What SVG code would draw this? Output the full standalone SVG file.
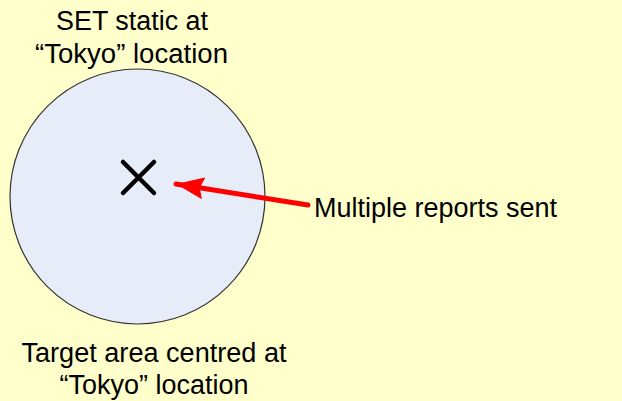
<svg xmlns="http://www.w3.org/2000/svg" width="622" height="401" viewBox="0 0 622 401">
<style>
.lbl{font-family:"Liberation Sans",Arial,sans-serif;font-size:27px;fill:#000}
</style>
<defs>
<marker id="ah" markerUnits="userSpaceOnUse" markerWidth="30" markerHeight="22" refX="28" refY="11" orient="auto" viewBox="0 0 30 22">
<path d="M0,0 L28,11 L0,22 L4,11 Z" fill="#FF0000"/>
</marker>
</defs>
<rect x="0" y="0" width="622" height="401" fill="#FFFFCC"/>
<g id="target-area">
<circle cx="137.5" cy="196.5" r="127.5" fill="#E6ECF8" stroke="#333333" stroke-width="1.2"/>
</g>
<g id="set-marker">
<path d="M123,162 L154,193 M154,162 L123,193" stroke="#000" stroke-width="4.5" stroke-linecap="round" fill="none"/>
</g>
<g id="connectors">
<line x1="308" y1="205" x2="176" y2="184" stroke="#FF0000" stroke-width="5" stroke-linecap="round" marker-end="url(#ah)"/>
</g>
<g id="label-set">
<text class="lbl" x="132" y="30" text-anchor="middle" textLength="152" lengthAdjust="spacingAndGlyphs">SET static at</text>
<text class="lbl" x="131.5" y="63" text-anchor="middle" textLength="193" lengthAdjust="spacingAndGlyphs">“Tokyo” location</text>
</g>
<g id="label-reports">
<text class="lbl" x="314" y="217" textLength="243" lengthAdjust="spacingAndGlyphs">Multiple reports sent</text>
</g>
<g id="label-target">
<text class="lbl" x="154" y="362" text-anchor="middle" textLength="265" lengthAdjust="spacingAndGlyphs">Target area centred at</text>
<text class="lbl" x="154" y="393.5" text-anchor="middle" textLength="189" lengthAdjust="spacingAndGlyphs">“Tokyo” location</text>
</g>
</svg>
